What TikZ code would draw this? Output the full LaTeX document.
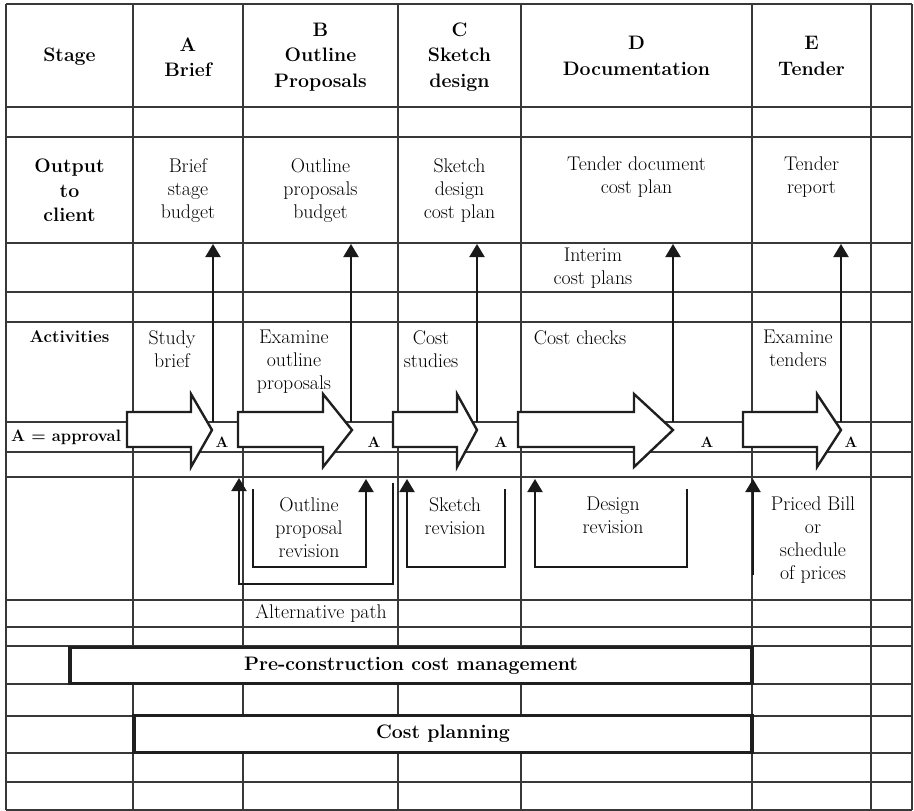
\documentclass[tikz,border=0pt]{standalone}
\usepackage{fontspec}
\usetikzlibrary{arrows.meta}
% stage arrow: body from #1 to head base #2, tip at #3
\newcommand\stagearrow[3]{%
  \draw[blockarrow] (#1,412) -- (#2,412) -- (#2,394) -- (#3,430)
    -- (#2,467) -- (#2,447) -- (#1,447) -- cycle;}
\begin{document}
\begin{tikzpicture}[x=1pt,y=-1pt,
  gridline/.style={draw=black!78,line width=1.1pt},
  blockarrow/.style={draw=black!88,line width=2.4pt,fill=white,line join=miter},
  outarrow/.style={draw=black!90,line width=2pt,-{Triangle[width=15pt,length=13pt]}},
  revarrow/.style={draw=black!90,line width=2pt,line join=miter,-{Triangle[width=15pt,length=13pt]}},
  hd/.style={font=\fontsize{19.5}{25.5}\selectfont\bfseries,align=center,inner sep=0pt},
  txt/.style={font=\fontsize{19.8}{23}\selectfont,align=center,inner sep=0pt},
  approval/.style={font=\fontsize{15}{18}\selectfont\bfseries,inner sep=0pt},
  bar/.style={draw=black!88,line width=3.6pt,fill=white,inner sep=0pt,
    font=\fontsize{19.5}{24}\selectfont\bfseries}
]
\useasboundingbox (0,0) rectangle (914,811);

% table grid
\foreach \yy in {4,107,137,243,292,322,422,452,477,600,627,646,684,716,753,782,810}
  \draw[gridline] (6,\yy) -- (912,\yy);
\foreach \xx in {6,133,243,398,521,752,871,912}
  \draw[gridline] (\xx,4) -- (\xx,810);

% stage arrows
\stagearrow{127}{191}{212}
\stagearrow{238}{323}{352}
\stagearrow{393}{457}{477}
\stagearrow{518}{634}{673}
\stagearrow{743}{817}{841}

% summary bars
\node[bar,minimum width=682pt,minimum height=36pt] (pcm) at (411,665.5) {Pre-construction cost management};
\node[bar,minimum width=618pt,minimum height=37pt] (cpl) at (443,734) {Cost planning};

% header row
\node[hd] (stage) at (69.5,57) {Stage};
\node[hd] (sa) at (188,57) {A\\Brief};
\node[hd] (sb) at (320.5,57) {B\\Outline\\Proposals};
\node[hd] (sc) at (459.5,57) {C\\Sketch\\design};
\node[hd] (sd) at (636.5,56) {D\\Documentation};
\node[hd] (se) at (811.5,56) {E\\Tender};

% outputs to client
\node[hd,font=\fontsize{19.5}{24.5}\selectfont\bfseries] (out) at (69.5,190.5) {Output\\to\\client};
\node[txt] (o1) at (188,190.5) {Brief\\stage\\budget};
\node[txt] (o2) at (320.5,190.5) {Outline\\proposals\\budget};
\node[txt] (o3) at (459.5,190.5) {Sketch\\design\\cost plan};
\node[txt] (o4) at (636.5,177) {Tender document\\cost plan};
\node[txt] (o5) at (811.5,177) {Tender\\report};
\node[txt] (interim) at (593,268) {Interim\\cost plans};

% activities
\node[font=\fontsize{17}{20}\selectfont\bfseries,inner sep=0pt] (act) at (69.5,337) {Activities};
\node[txt,anchor=north] (ac1) at (172,330) {Study\\brief};
\node[txt,anchor=north] (ac2) at (294,330) {Examine\\outline\\proposals};
\node[txt,anchor=north] (ac3) at (431,330) {Cost\\studies};
\node[txt,anchor=north] (ac4) at (580,330) {Cost checks};
\node[txt,anchor=north] (ac5) at (798,330) {Examine\\tenders};

% approvals
\node[font=\fontsize{16.5}{20}\selectfont\bfseries,inner sep=0pt] (appr) at (66,437) {A = approval};
\node[approval] (ap1) at (222,442) {A};
\node[approval] (ap2) at (374,442) {A};
\node[approval] (ap3) at (501,442) {A};
\node[approval] (ap4) at (707,442) {A};
\node[approval] (ap5) at (851,442) {A};

% output arrows from each approval
\foreach \n/\xx in {1/213,2/351,3/477,4/673,5/841}{
  \coordinate (up\n s) at (\xx,422);
  \coordinate (up\n e) at (\xx,244);
  \draw[outarrow] (up\n s) -- (up\n e);
}

% revision loops
\node[txt,anchor=north] (rv1) at (309,497) {Outline\\proposal\\revision};
\node[txt,anchor=north] (rv2) at (455,497) {Sketch\\revision};
\node[txt,anchor=north] (rv3) at (613,497) {Design\\revision};
\node[txt,anchor=north] (rv4) at (813,497) {Priced Bill\\or\\schedule\\of prices};
\node[txt] (alt) at (321,613) {Alternative path};

\coordinate (oprS) at (253,489); \coordinate (oprB) at (366,567); \coordinate (oprE) at (366,479);
\draw[revarrow] (oprS) |- (oprB) -- (oprE);
\coordinate (altS) at (393,483); \coordinate (altB) at (239,584); \coordinate (altE) at (239,478);
\draw[revarrow] (altS) |- (altB) -- (altE);
\coordinate (skS) at (505,489); \coordinate (skB) at (407,567); \coordinate (skE) at (407,479);
\draw[revarrow] (skS) |- (skB) -- (skE);
\coordinate (dsS) at (687,489); \coordinate (dsB) at (535,567); \coordinate (dsE) at (535,479);
\draw[revarrow] (dsS) |- (dsB) -- (dsE);
\coordinate (pbS) at (753,575); \coordinate (pbE) at (753,479);
\draw[revarrow] (pbS) -- (pbE);
\end{tikzpicture}
\end{document}
